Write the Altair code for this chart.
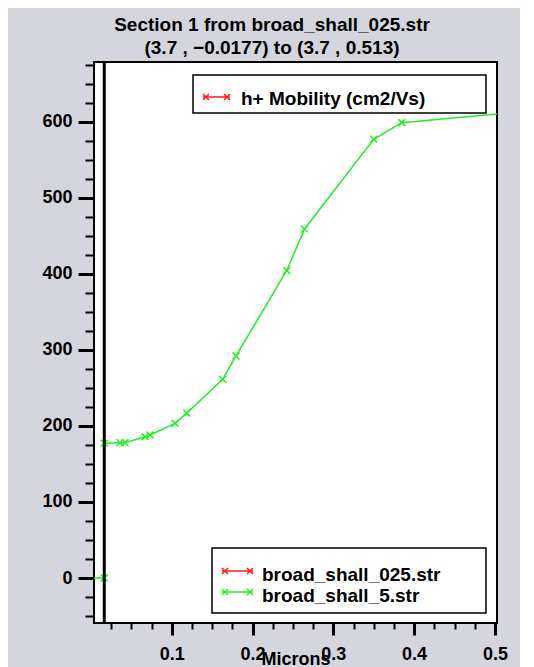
import altair as alt
import pandas as pd

# ---------------- values ----------------
series_names = ["broad_shall_025.str", "broad_shall_5.str"]
series_colors = ["#ff1a1a", "#22ee22"]
quantity_label = "h+ Mobility (cm2/Vs)"
title_lines = ["Section 1 from broad_shall_025.str", "(3.7 , \u22120.0177) to (3.7 , 0.513)"]
x_title = "Microns"

microns_5 = [-0.0177, 0.0165, 0.0165, 0.0360, 0.0422, 0.0670, 0.0732, 0.1041,
             0.1186, 0.1631, 0.1796, 0.2423, 0.2644, 0.3500, 0.3847, 0.5130]
mobility_5 = [0.0, 0.0, 177.2, 178.0, 178.0, 185.9, 188.2, 203.5,
              217.0, 261.4, 292.1, 404.6, 459.2, 577.2, 599.1, 611.5]

boundary_microns = [0.0165]

x_major_ticks = [0.1, 0.2, 0.3, 0.4, 0.5]
x_minor_ticks = [0.025, 0.05, 0.075, 0.125, 0.15, 0.175, 0.225, 0.25, 0.275,
                 0.325, 0.35, 0.375, 0.425, 0.45, 0.475]
y_major_ticks = [0, 100, 200, 300, 400, 500, 600]
y_minor_ticks = [-50, -25, 25, 50, 75, 125, 150, 175, 225, 250, 275, 325, 350,
                 375, 425, 450, 475, 525, 550, 575, 625, 650, 675]
x_domain = [0.0038, 0.5026]
y_domain = [-59.2, 678.9]

# ---------------- styling ----------------
FONT = "Liberation Sans"
FS = 18
LFS = 19
W, H = 403, 561

df = pd.DataFrame({
    "x": microns_5,
    "y": mobility_5,
    "series": series_names[1],
    "order": list(range(len(microns_5))),
})

xs = alt.Scale(domain=x_domain, nice=False, zero=False)
ys = alt.Scale(domain=y_domain, nice=False, zero=False)
color = alt.Color("series:N", scale=alt.Scale(domain=series_names, range=series_colors), legend=None)

common_axis = dict(domain=False, grid=False, tickColor="black", labelColor="black",
                   labelFont=FONT, labelFontSize=FS, labelFontWeight="bold",
                   labelFlush=False, labelOverlap=False)

x_major_axis = alt.Axis(values=x_major_ticks, format=".1f", orient="bottom",
                        tickSize=12, tickWidth=3, labelPadding=10,
                        title=x_title, titleFont=FONT, titleFontSize=FS,
                        titleFontWeight="bold", titleColor="black",
                        titleY=41, titleBaseline="alphabetic", **common_axis)
y_major_axis = alt.Axis(values=y_major_ticks, format="d", orient="left",
                        tickSize=16, tickWidth=3, labelPadding=6, title=None,
                        **common_axis)
x_minor_axis = alt.Axis(values=x_minor_ticks, orient="bottom", labels=False,
                        tickSize=6, tickWidth=2, title=None, domain=False,
                        grid=False, tickColor="black")
y_minor_axis = alt.Axis(values=y_minor_ticks, orient="left", labels=False,
                        tickSize=9, tickWidth=2, title=None, domain=False,
                        grid=False, tickColor="black")

X_PATH = "M-1,-1L1,1M-1,1L1,-1"

minor = alt.Chart(df).mark_point(opacity=0).encode(
    x=alt.X("x:Q", scale=xs, axis=x_minor_axis),
    y=alt.Y("y:Q", scale=ys, axis=y_minor_axis),
)

line = alt.Chart(df).mark_line(strokeWidth=1.5, clip=True).encode(
    x=alt.X("x:Q", scale=xs, axis=x_major_axis),
    y=alt.Y("y:Q", scale=ys, axis=y_major_axis),
    color=color,
    order="order:Q",
)

pts = alt.Chart(df).mark_point(shape=X_PATH, size=49, strokeWidth=1.5,
                               filled=False, opacity=1, clip=True).encode(
    x=alt.X("x:Q", scale=xs, axis=None),
    y=alt.Y("y:Q", scale=ys, axis=None),
    color=color,
)

boundary = alt.Chart(pd.DataFrame({"x": boundary_microns})).mark_rule(
    color="black", strokeWidth=3).encode(x=alt.X("x:Q", scale=xs, axis=None))


def one_row():
    return pd.DataFrame({"k": [0]})


def legend_box(x1, x2, y1, y2):
    return alt.Chart(one_row()).mark_rect(fill="white", stroke="black", strokeWidth=1.5).encode(
        x=alt.value(x1), x2=alt.value(x2), y=alt.value(y1), y2=alt.value(y2))


def legend_entry(label, col, x1, x2, ysym, xtext, ybase):
    layers = [
        alt.Chart(one_row()).mark_rule(color=col, strokeWidth=1.5).encode(
            x=alt.value(x1), x2=alt.value(x2), y=alt.value(ysym)),
    ]
    for xx in (x1 + 3, x2 - 3):
        layers.append(
            alt.Chart(one_row()).mark_point(shape=X_PATH, size=36, strokeWidth=1.5,
                                            filled=False, color=col, opacity=1).encode(
                x=alt.value(xx), y=alt.value(ysym)))
    layers.append(
        alt.Chart(pd.DataFrame({"label": [label]})).mark_text(
            align="left", baseline="alphabetic", font=FONT, fontSize=LFS,
            fontWeight="bold", color="black").encode(
            x=alt.value(xtext), y=alt.value(ybase), text="label:N"))
    return layers


legend_layers = [legend_box(99, 392, 13, 51)]
legend_layers += legend_entry(quantity_label, series_colors[0], 109, 136, 35, 147, 43)
legend_layers.append(legend_box(118, 392, 486, 551))
legend_layers += legend_entry(series_names[0], series_colors[0], 128, 159, 509, 168, 518.5)
legend_layers += legend_entry(series_names[1], series_colors[1], 128, 159, 530, 168, 539.5)

chart = alt.layer(minor, line, pts, boundary, *legend_layers).resolve_axis(
    x="independent", y="independent"
).properties(
    width=W, height=H,
    autosize=alt.AutoSizeParams(type="none"),
    padding={"left": 86, "top": 54, "right": 23, "bottom": 44},
    title=alt.TitleParams(text=title_lines, font=FONT, fontSize=19, fontWeight="bold",
                          color="black", anchor="middle", frame="group", dx=-23.5,
                          dy=24, baseline="bottom", offset=8, lineHeight=22.5),
).configure(background="#d5d5dd").configure_view(fill="white", stroke="black", strokeWidth=2)

chart.save("out.html", embed_options={"renderer": "svg", "actions": False})
